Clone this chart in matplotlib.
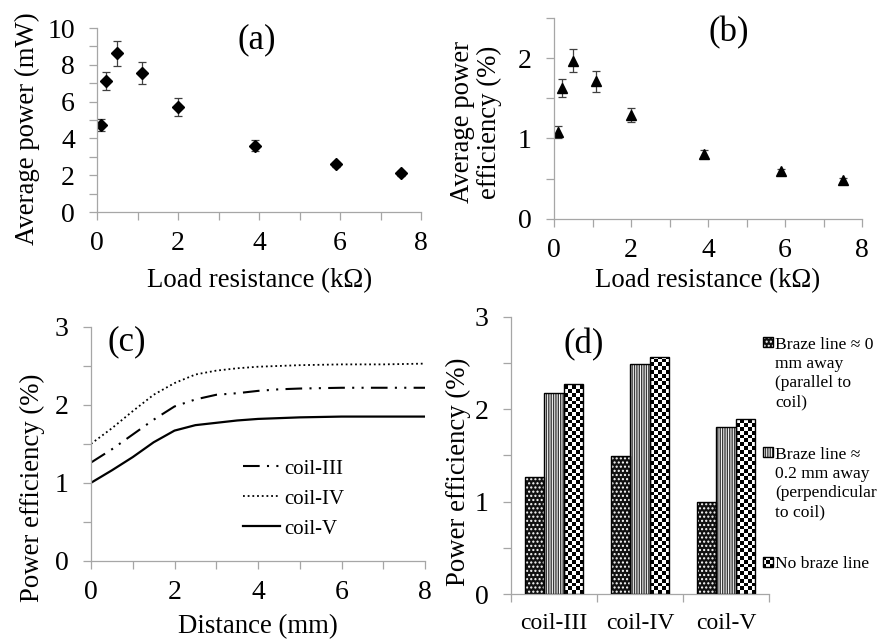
import numpy as np
import matplotlib
matplotlib.use("Agg")
import matplotlib.pyplot as plt
from matplotlib.legend_handler import HandlerBase
from matplotlib.patches import Rectangle

plt.rcParams['font.family'] = ['Liberation Serif', 'DejaVu Serif']
plt.rcParams['hatch.linewidth'] = 1.0

# (a) / (b) load resistance sweep
load_kohm = [0.1, 0.22, 0.5, 1.1, 2.0, 3.9, 5.9, 7.5]
power_mw = [4.71, 7.12, 8.62, 7.55, 5.69, 3.60, 2.59, 2.10]
power_err = [0.32, 0.50, 0.68, 0.59, 0.48, 0.31, 0.13, 0.12]
eff_pct = [1.08, 1.63, 1.97, 1.71, 1.29, 0.81, 0.59, 0.48]
eff_err = [0.07, 0.11, 0.14, 0.13, 0.09, 0.05, 0.03, 0.03]

# (c) efficiency vs distance
distance_mm = [0, 0.5, 1, 1.5, 2, 2.5, 3, 3.5, 4, 4.5, 5, 6, 7, 8]
coil_iii = [1.26, 1.43, 1.62, 1.81, 1.98, 2.07, 2.13, 2.15, 2.18, 2.20, 2.21, 2.22, 2.22, 2.22]
coil_iv = [1.50, 1.70, 1.92, 2.13, 2.28, 2.39, 2.44, 2.47, 2.49, 2.50, 2.51, 2.52, 2.52, 2.53]
coil_v = [1.00, 1.16, 1.33, 1.52, 1.67, 1.74, 1.77, 1.80, 1.82, 1.83, 1.84, 1.85, 1.85, 1.85]

# (d) braze line comparison
coils = ['coil-III', 'coil-IV', 'coil-V']
braze_0mm = [1.27, 1.49, 1.00]
braze_02mm = [2.17, 2.49, 1.81]
no_braze = [2.27, 2.56, 1.89]
braze_labels = ['Braze line \u2248 0\nmm away\n(parallel to\ncoil)',
                'Braze line \u2248\n0.2 mm away\n(perpendicular\nto coil)',
                'No braze line']

W, H = 882, 642
fig = plt.figure(figsize=(W / 100, H / 100), dpi=100)


def px_axes(l, r, t, b):
    return fig.add_axes([l / W, 1 - b / H, (r - l) / W, (b - t) / H])


TICK_FS = 20
AX_FS = 19.3
PANEL_FS = 25


def style(ax):
    for s in ['top', 'right']:
        ax.spines[s].set_visible(False)
    for s in ['left', 'bottom']:
        ax.spines[s].set_color('#a6a6a6')
        ax.spines[s].set_linewidth(0.9)
    ax.tick_params(which='both', direction='out', color='#a6a6a6', length=5.5,
                   width=0.9, labelsize=TICK_FS)
    ax.tick_params(axis='y', which='both', pad=10.5)
    ax.tick_params(axis='x', which='both', pad=8.5)


# ---- (a)
axa = px_axes(97, 421, 28, 212)
style(axa)
axa.errorbar(load_kohm, power_mw, yerr=power_err, fmt='D', color='black',
             markersize=6.5, ecolor='#404040', elinewidth=0.9, capsize=3, capthick=0.9)
axa.set_xlim(0, 8)
axa.set_ylim(0, 10)
axa.set_xticks([0, 2, 4, 6, 8])
axa.set_xticks([1, 3, 5, 7], minor=True)
axa.set_yticks([0, 2, 4, 6, 8, 10])
axa.set_yticks([1, 3, 5, 7, 9], minor=True)
axa.set_ylabel('Average power (mW)', fontsize=AX_FS, va='center')
axa.yaxis.set_label_coords(-0.216, 0.454)
axa.set_xlabel('Load resistance (k\u03a9)', fontsize=AX_FS, va='center')
axa.xaxis.set_label_coords(0.502, -0.375)
axa.text(0.494, 0.935, '(a)', transform=axa.transAxes, fontsize=PANEL_FS,
         ha='center', va='center')

# ---- (b)
axb = px_axes(554, 862, 18, 218.7)
style(axb)
axb.errorbar(load_kohm, eff_pct, yerr=eff_err, fmt='^', color='black',
             markersize=7, ecolor='#404040', elinewidth=0.9, capsize=3, capthick=0.9)
axb.set_xlim(0, 8)
axb.set_ylim(0, 2.5)
axb.set_xticks([0, 2, 4, 6, 8])
axb.set_xticks([1, 3, 5, 7], minor=True)
axb.set_yticks([0, 1, 2])
axb.set_yticks([0.5, 1.5, 2.5], minor=True)
axb.set_ylabel('Average power\nefficiency (%)', fontsize=AX_FS, va='center',
               linespacing=1.1)
axb.yaxis.set_label_coords(-0.253, 0.482)
axb.set_xlabel('Load resistance (k\u03a9)', fontsize=AX_FS, va='center')
axb.xaxis.set_label_coords(0.5, -0.31)
axb.text(0.568, 0.925, '(b)', transform=axb.transAxes, fontsize=PANEL_FS,
         ha='center', va='center')

# ---- (c)
axc = px_axes(91, 425, 327, 560.7)
style(axc)
axc.plot(distance_mm, coil_iii, color='black', lw=1.5,
         dashes=(8, 3.5, 1, 3.5, 1, 3.5), label='coil-III')
axc.plot(distance_mm, coil_iv, color='black', lw=1.3, linestyle=(0, (1, 1.6)),
         label='coil-IV')
axc.plot(distance_mm, coil_v, color='black', lw=1.6, label='coil-V')
axc.set_xlim(0, 8)
axc.set_ylim(0, 3)
axc.set_xticks([0, 2, 4, 6, 8])
axc.set_xticks([1, 3, 5, 7], minor=True)
axc.set_yticks([0, 1, 2, 3])
axc.set_yticks([0.5, 1.5, 2.5], minor=True)
axc.set_ylabel('Power efficiency (%)', fontsize=AX_FS, va='center')
axc.yaxis.set_label_coords(-0.174, 0.311)
axc.set_xlabel('Distance (mm)', fontsize=AX_FS, va='center')
axc.xaxis.set_label_coords(0.5, -0.284)
axc.text(0.108, 0.936, '(c)', transform=axc.transAxes, fontsize=PANEL_FS,
         ha='center', va='center')
axc.legend(loc='upper left', bbox_to_anchor=(0.455, 0.435), frameon=False,
           fontsize=15, borderpad=0, borderaxespad=0, handlelength=1.8,
           handletextpad=0.2, labelspacing=0.5)

# ---- (d)
axd = px_axes(511, 769, 316.8, 594)
style(axd)
xpos = np.arange(len(coils))
bw = 0.222
cell_h = 0.041
b1 = axd.bar(xpos - bw, braze_0mm, bw, facecolor='#111111', edgecolor='white',
             hatch='....', linewidth=0, zorder=2)
b2 = axd.bar(xpos, braze_02mm, bw, facecolor='white', edgecolor='#3a3a3a',
             hatch='|||||||', linewidth=0, zorder=2)
b3 = axd.bar(xpos + bw, no_braze, bw, facecolor='white', edgecolor='none',
             linewidth=0, zorder=2)
for rect in b3:
    x0, w, h = rect.get_x(), rect.get_width(), rect.get_height()
    ny = int(np.ceil(h / cell_h))
    board = np.add.outer(np.arange(ny), np.arange(5)) % 2
    im = axd.imshow(board, cmap='gray', extent=(x0, x0 + w, 0, ny * cell_h),
                    origin='lower', interpolation='nearest', aspect='auto', zorder=2)
    im.set_clip_path(rect)
for vals, off in [(braze_0mm, -bw), (braze_02mm, 0), (no_braze, bw)]:
    axd.bar(xpos + off, vals, bw, fill=False, edgecolor='black', linewidth=1.0,
            zorder=3)
axd.set_xlim(-0.5, 2.5)
axd.set_ylim(0, 3)
axd.set_yticks([0, 1, 2, 3])
axd.set_yticks([0.5, 1.5, 2.5], minor=True)
axd.set_xticks([-0.5, 0.5, 1.5, 2.5])
axd.set_xticklabels([])
axd.set_xticks(xpos, minor=True)
axd.set_xticklabels(coils, minor=True, fontsize=17)
axd.tick_params(axis='x', which='minor', length=0, pad=14)
axd.set_ylabel('Power efficiency (%)', fontsize=AX_FS, va='center')
axd.yaxis.set_label_coords(-0.205, 0.44)
axd.text(0.283, 0.898, '(d)', transform=axd.transAxes, fontsize=PANEL_FS,
         ha='center', va='center')


class PatternHandler(HandlerBase):
    def __init__(self, kind, nlines, lsp):
        super().__init__()
        self.kind = kind
        self.nlines = nlines
        self.lsp = lsp

    def create_artists(self, legend, orig_handle, xdescent, ydescent, width,
                       height, fontsize, trans):
        s = 7.2
        shift = (self.nlines - 1) / 2 * fontsize * self.lsp
        x0 = -xdescent
        y0 = -ydescent + (height - s) / 2 + shift
        arts = []
        if self.kind == 'check':
            arts.append(Rectangle((x0, y0), s, s, facecolor='white',
                                  edgecolor='none', transform=trans))
            n = 3
            c = s / n
            for i in range(n):
                for j in range(n):
                    if (i + j) % 2 == 0:
                        arts.append(Rectangle((x0 + i * c, y0 + j * c), c, c,
                                              facecolor='black', edgecolor='none',
                                              transform=trans))
        elif self.kind == 'dots':
            arts.append(Rectangle((x0, y0), s, s, facecolor='#111111',
                                  edgecolor='white', hatch='....', lw=0,
                                  transform=trans))
        else:
            arts.append(Rectangle((x0, y0), s, s, facecolor='white',
                                  edgecolor='#3a3a3a', hatch='|||||||', lw=0,
                                  transform=trans))
        arts.append(Rectangle((x0, y0), s, s, fill=False, edgecolor='black',
                              lw=1.0, transform=trans))
        return arts


LEG_FS = 12.6
LEG_LSP = 1.27
h1 = Rectangle((0, 0), 1, 1)
h2 = Rectangle((0, 0), 1, 1)
h3 = Rectangle((0, 0), 1, 1)
leg = fig.legend([h1, h2, h3], braze_labels,
                 handler_map={h1: PatternHandler('dots', 4, LEG_LSP * 0.94),
                              h2: PatternHandler('lines', 4, LEG_LSP * 0.94),
                              h3: PatternHandler('check', 1, LEG_LSP)},
                 loc='upper left', bbox_to_anchor=(763 / W, 1 - 337 / H),
                 bbox_transform=fig.transFigure, frameon=False, fontsize=LEG_FS,
                 borderpad=0, borderaxespad=0, handlelength=0.6, handleheight=0.6,
                 handletextpad=0.1, labelspacing=2.05)
for t in leg.get_texts():
    t.set_linespacing(LEG_LSP)

fig.savefig('out.png', dpi=100)
